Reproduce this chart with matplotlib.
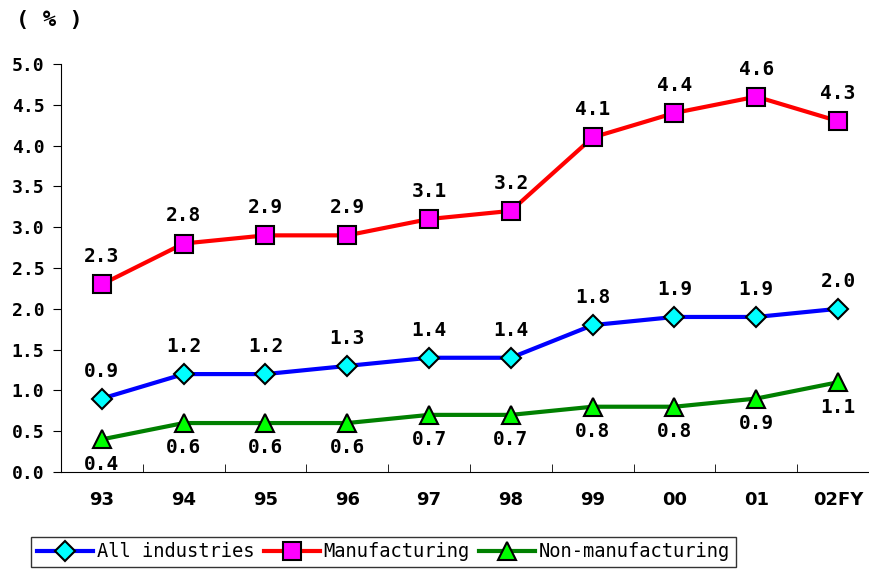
import matplotlib
matplotlib.use("Agg")
import matplotlib.pyplot as plt

# --- data ---
years = ["93", "94", "95", "96", "97", "98", "99", "00", "01", "02FY"]
all_ind = [0.9, 1.2, 1.2, 1.3, 1.4, 1.4, 1.8, 1.9, 1.9, 2.0]
manuf = [2.3, 2.8, 2.9, 2.9, 3.1, 3.2, 4.1, 4.4, 4.6, 4.3]
non_manuf = [0.4, 0.6, 0.6, 0.6, 0.7, 0.7, 0.8, 0.8, 0.9, 1.1]
y_ticks = [0.0, 0.5, 1.0, 1.5, 2.0, 2.5, 3.0, 3.5, 4.0, 4.5, 5.0]

fig = plt.figure(figsize=(8.7, 5.69), dpi=100)
ax = fig.add_axes([61 / 870, 97 / 569, 1 - 61 / 870, 408 / 569])

x = list(range(len(years)))
ax.plot(x, all_ind, color="#0000FF", lw=3, marker="D", ms=10,
        mfc="#00FFFF", mec="black", mew=1.5, label="All industries", zorder=3)
ax.plot(x, manuf, color="#FF0000", lw=3, marker="s", ms=13,
        mfc="#FF00FF", mec="black", mew=1.5, label="Manufacturing", zorder=3)
ax.plot(x, non_manuf, color="#008000", lw=3, marker="^", ms=13,
        mfc="#00FF00", mec="black", mew=1.5, label="Non-manufacturing", zorder=3)

mono = "DejaVu Sans Mono"
lbl_font = dict(fontsize=14, fontweight="bold", family=mono, ha="center")
for i in x:
    ax.annotate(f"{manuf[i]:.1f}", (i, manuf[i]), xytext=(0, 13),
                textcoords="offset points", va="bottom", **lbl_font)
    ax.annotate(f"{all_ind[i]:.1f}", (i, all_ind[i]), xytext=(0, 13),
                textcoords="offset points", va="bottom", **lbl_font)
    ax.annotate(f"{non_manuf[i]:.1f}", (i, non_manuf[i]), xytext=(0, -11),
                textcoords="offset points", va="top", **lbl_font)

ax.set_xlim(-0.5, 9.39)
ax.set_ylim(0, 5.0)
ax.set_yticks(y_ticks)
ax.set_yticklabels([f"{v:.1f}" for v in y_ticks], fontsize=13,
                   fontweight="bold", family=mono)
ax.set_xticks(x)
ax.set_xticklabels(years, fontsize=13, fontweight="bold")
ax.set_xticks([i + 0.5 for i in x[:-1]], minor=True)
ax.tick_params(axis="x", which="major", length=0, pad=14)
ax.tick_params(axis="x", which="minor", direction="in", length=6)
ax.tick_params(axis="y", direction="out", length=6, pad=6)
for s in ["top", "right"]:
    ax.spines[s].set_visible(False)

fig.text(16 / 870, 1 - 20 / 569, "( % )", fontsize=16, fontweight="bold",
         family=mono, va="center", ha="left")

leg = fig.legend(loc="lower left", bbox_to_anchor=(31 / 870, 2 / 569),
                 ncol=3, frameon=True, fancybox=False, edgecolor="black",
                 prop=dict(family=mono, size=13.5),
                 handlelength=3, handletextpad=0.2, columnspacing=0.5,
                 borderpad=0.3, borderaxespad=0)
leg.get_frame().set_linewidth(1)

fig.savefig("out.png", dpi=100)
